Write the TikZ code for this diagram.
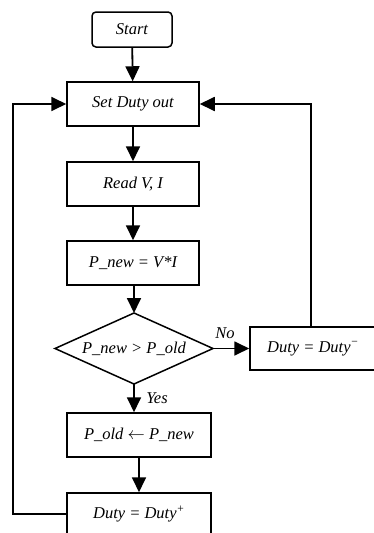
\documentclass[tikz,border=0pt]{standalone}
\usepackage{fontspec}
\setmainfont{Liberation Serif}
\usetikzlibrary{arrows.meta}
\begin{document}
\begin{tikzpicture}[x=1pt,y=-1pt,
  every node/.style={font=\fontsize{16.5}{19}\selectfont\itshape},
  box/.style={draw,line width=1.5pt,rectangle,inner sep=0pt},
  conn/.style={line width=1.8pt},
  arr/.style={conn,-{Triangle[length=15pt,width=14pt]}},
  lbl/.style={inner sep=0pt}]
\useasboundingbox (0,0) rectangle (374,533);
\node[box,rounded corners=4pt,minimum width=80pt,minimum height=35pt] (start) at (132,29.5) {Start};
\node[box,minimum width=132pt,minimum height=44pt] (set) at (133,104) {Set Duty out};
\node[box,minimum width=132pt,minimum height=44pt] (read) at (133,184) {Read V, I};
\node[box,minimum width=132pt,minimum height=44pt] (pnew) at (133,263) {P\_new = V*I};
\coordinate (dN) at (134,313);
\coordinate (dS) at (134,384);
\coordinate (dW) at (55,348.5);
\coordinate (dE) at (213,348.5);
\draw[line width=1.5pt,line join=miter] (dN) -- (dE) -- (dS) -- (dW) -- cycle;
\node[inner sep=0pt] (dia) at (134,348.5) {P\_new > P\_old};
\node[box,minimum width=126pt,minimum height=43pt] (dminus) at (313,348.5) {Duty = Duty\textsuperscript{−}};
\node[box,minimum width=144pt,minimum height=44pt] (pold) at (139,435) {P\_old $\leftarrow$ P\_new};
\node[box,minimum width=144pt,minimum height=42pt] (dplus) at (139,514) {Duty = Duty\textsuperscript{+}};
\coordinate (lb) at (13,514);
\coordinate (lt) at (13,104);
\coordinate (rt) at (311,104);
\draw[arr] (start) -- (set);
\draw[arr] (set) -- (read);
\draw[arr] (read) -- (pnew);
\draw[arr] (pnew.south -| dN) -- (dN);
\draw[arr] (dS) -- (dS |- pold.north);
\draw[arr] (pold) -- (dplus);
\draw[arr] (dE) -- (dminus.west);
\draw[arr] (dplus.west) -- (lb) -- (lt) -- (set.west);
\draw[arr] (dminus.north -| rt) -- (rt) -- (set.east);
\node[lbl] (no) at (225,333) {No};
\node[lbl] (yes) at (157,398) {Yes};
\end{tikzpicture}
\end{document}
